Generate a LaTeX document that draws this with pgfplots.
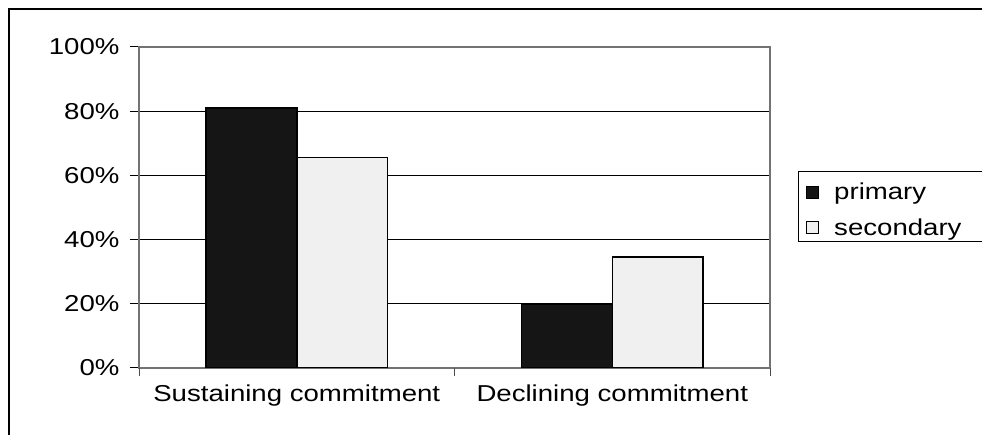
\documentclass[border=0pt]{standalone}
\usepackage{pgfplots}
\pgfplotsset{compat=1.18}
\usepackage{fontspec}
\setmainfont[FakeStretch=1.2]{Liberation Sans}
\definecolor{prim}{HTML}{151515}
\definecolor{seco}{HTML}{F0F0F0}
\begin{document}
\begin{tikzpicture}[font=\fontsize{23}{27}\selectfont]
\useasboundingbox (0pt,0pt) rectangle (982pt,435pt);
\draw[line width=2pt,black] (9pt,-10pt) -- (9pt,426pt) -- (995pt,426pt);
\begin{axis}[
  at={(139pt,67pt)}, anchor=south west, scale only axis,
  width=631pt, height=321pt,
  ymin=0, ymax=100, xmin=-0.5, xmax=1.5,
  ybar=0pt, bar width=0.288,
  ytick={0,20,40,60,80,100},
  yticklabels={0\%,20\%,40\%,60\%,80\%,100\%},
  xtick={0,1},
  xticklabels={Sustaining commitment, Declining commitment},
  xtick pos=lower, ytick pos=left,
  xtick style={draw=none},
  extra x ticks={-0.5,0.5,1.5},
  extra x tick labels={},
  extra x tick style={xtick pos=lower, xtick style={draw=black!70, line width=1pt}, major tick length=8pt},
  tick align=outside, major tick length=9pt,
  ytick style={black, line width=1pt},
  ymajorgrids, grid style={black, line width=1pt},
  axis line style={black!55, line width=1.5pt},
  tick label style={font=\fontsize{23}{27}\selectfont},
  yticklabel style={xshift=-7pt},
  xticklabel style={yshift=-4pt},
  legend style={at={(1.0444,0.601)}, anchor=north west, draw=none, fill=none,
    inner xsep=8pt, inner ysep=6pt, row sep=13pt,
    /tikz/every odd column/.append style={column sep=13pt},
    font=\fontsize{23}{27}\selectfont, cells={anchor=west}},
]
\addplot[fill=prim, draw=black, line width=1.5pt,
  legend image code/.code={\draw[fill=prim,draw=black,line width=1pt] (0pt,-6pt) rectangle (12pt,6pt);}]
  coordinates {(0,81) (1,20)};
\addplot[fill=seco, draw=black, line width=1.5pt,
  legend image code/.code={\draw[fill=seco,draw=black,line width=1pt] (0pt,-6pt) rectangle (12pt,6pt);}]
  coordinates {(0,65.5) (1,34.5)};
\legend{primary, secondary}
\end{axis}
\draw[black, line width=1pt] (995pt,263pt) -- (798pt,263pt) -- (798pt,193pt) -- (995pt,193pt);
\end{tikzpicture}
\end{document}
